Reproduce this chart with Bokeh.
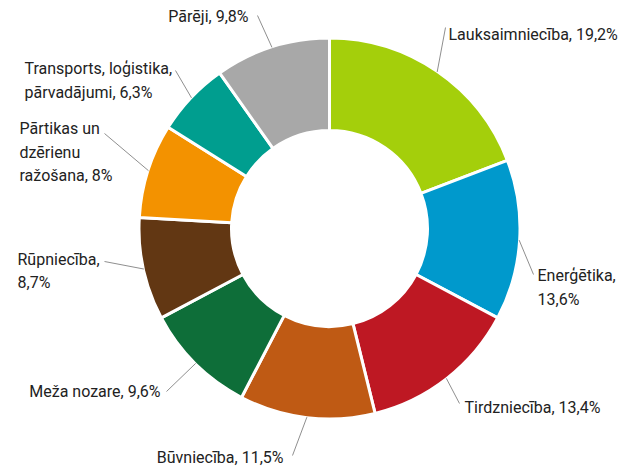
import numpy as np
from bokeh.plotting import figure
from bokeh.models import Range1d, ColumnDataSource
from bokeh.core.properties import value
from bokeh.embed import file_html
from bokeh.resources import INLINE

# ---- data ----
sectors = ["Lauksaimniecība", "Enerģētika", "Tirdzniecība", "Būvniecība",
           "Meža nozare", "Rūpniecība", "Pārtikas un dzērienu ražošana",
           "Transports, loģistika, pārvadājumi", "Pārēji"]
shares = [19.2, 13.6, 13.4, 11.5, 9.6, 8.7, 8.0, 6.3, 9.8]
share_labels = ["19,2%", "13,6%", "13,4%", "11,5%", "9,6%", "8,7%", "8%", "6,3%", "9,8%"]
colors = ["#A4CF0B", "#0099CC", "#BE1823", "#BF5A14", "#0E6E39",
          "#623713", "#F39200", "#009E8F", "#A8A8A8"]

# ---- layout (pixel positions of labels) ----
label_texts = ["Lauksaimniecība, 19,2%", "Enerģētika,\n13,6%", "Tirdzniecība, 13,4%",
               "Būvniecība, 11,5%", "Meža nozare, 9,6%", "Rūpniecība,\n8,7%",
               "Pārtikas un\ndzērienu\nražošana, 8%",
               "Transports, loģistika,\npārvadājumi, 6,3%", "Pārēji, 9,8%"]
label_px = [448, 537, 464, 283, 160, 17, 19, 24, 248]
label_py = [34, 287, 407, 457, 391, 270.5, 151.5, 80, 16]
label_align = ["left", "left", "left", "right", "right", "left", "left", "left", "right"]
leader_end_px = [445, 533, 459, 292, 166, 104, 104, 175, 257]
leader_end_py = [27, 274, 403, 455, 391, 261, 133, 70, 15]

W, H = 632, 468


def Y(py):
    return H - py


p = figure(width=W, height=H, x_range=Range1d(0, W), y_range=Range1d(0, H),
           output_backend="svg", toolbar_location=None, min_border=0)
p.axis.visible = False
p.grid.visible = False
p.outline_line_color = None
p.background_fill_color = "white"

cx, cy = 329, Y(228)
R_out, R_in = 190.5, 98

total = sum(shares)
cum = np.cumsum([0] + shares) / total * 2 * np.pi
th0, th1 = cum[:-1], cum[1:]
mid = (th0 + th1) / 2

src = ColumnDataSource(dict(start=np.pi / 2 - th0, end=np.pi / 2 - th1, color=colors,
                            sector=sectors, share=shares))
p.annular_wedge(x=cx, y=cy, inner_radius=R_in, outer_radius=R_out,
                start_angle="start", end_angle="end", direction="clock",
                fill_color="color", line_color="white", line_width=3, source=src)

# leader lines
r0 = R_out - 0.5
x0 = cx + r0 * np.sin(mid)
y0 = cy + r0 * np.cos(mid)
p.segment(x0=x0, y0=y0, x1=leader_end_px, y1=[Y(v) for v in leader_end_py],
          line_color="#8f8f8f", line_width=1)

for al in ["left", "right"]:
    idx = [i for i, a in enumerate(label_align) if a == al]
    p.text(x=[label_px[i] for i in idx], y=[Y(label_py[i]) for i in idx],
           text=[label_texts[i] for i in idx],
           text_font=value("Roboto"), text_font_size="16px", text_color="#222222",
           text_align=al, text_baseline="middle", text_line_height=1.25)

open("out.html", "w").write(file_html(p, INLINE))
